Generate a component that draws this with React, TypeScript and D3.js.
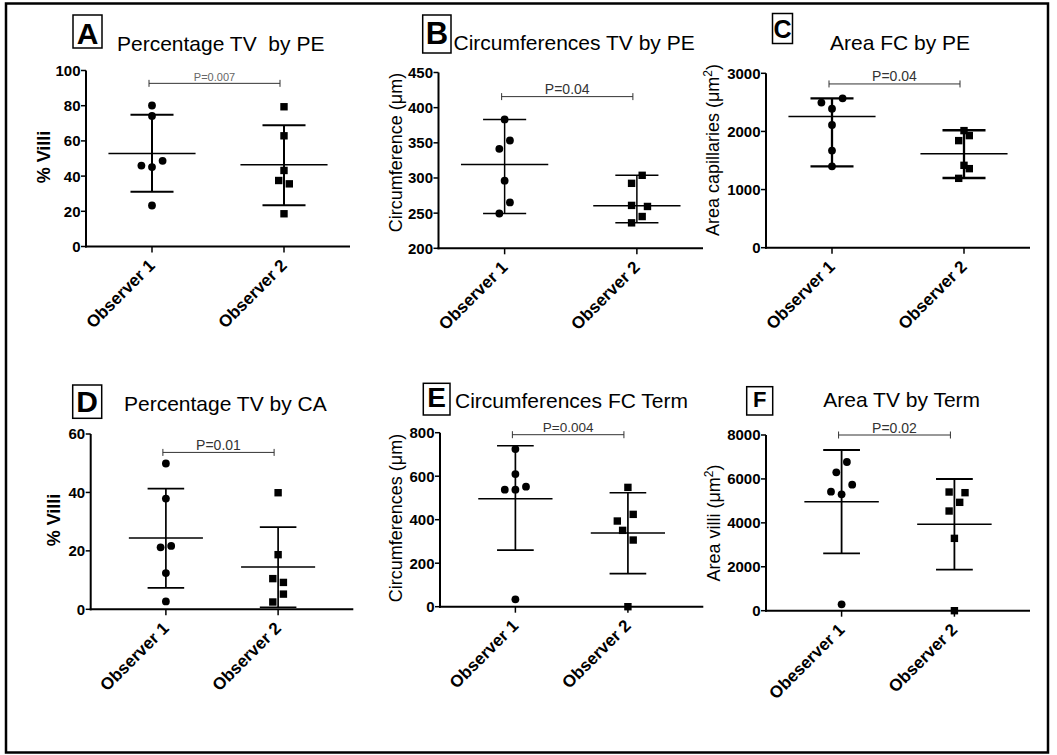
import React from 'react';
import * as d3 from 'd3';

const FONT = '"Liberation Sans", Arial, Helvetica, sans-serif';

const observerLabels = ['Observer 1', 'Observer 2'];
const observerLabelsF = ['Obeserver 1', 'Observer 2'];

// Panel A – Percentage TV by PE
const aObs1 = [80.1, 74.2, 46.0, 45.1, 48.7, 23.3];
const aObs2 = [79.4, 62.9, 43.2, 37.5, 35.6, 18.6];
const aJit1 = [0, 0, -2, 0, 2, 0];
const aJit2 = [0, 0, 0, -1, 1, 0];
const aMean = [52.8, 46.4];
const aSdLow = [31.1, 23.5];
const aSdHigh = [74.8, 68.9];
const aTicks = [0, 20, 40, 60, 80, 100];
const aSig = 92.7;

// Panel B – Circumferences TV by PE
const bObs1 = [383.3, 353.3, 341.4, 296.2, 265.2, 249.5];
const bObs2 = [303.8, 292.4, 261.0, 259.5, 245.2, 236.2];
const bJit1 = [0, 1, -1, 0, 1, -1];
const bJit2 = [1, -1, -1, 2, 1, -1];
const bMean = [319.0, 260.5];
const bSdLow = [249.5, 236.2];
const bSdHigh = [383.3, 303.8];
const bTicks = [200, 250, 300, 350, 400, 450];
const bSig = 415.7;

// Panel C – Area FC by PE
const cObs1 = [2496, 2570, 2392, 2111, 1670, 1400];
const cObs2 = [2014, 1842, 1928, 1417, 1360, 1193];
const cJit1 = [-2, 2, 0, 0, 0, 0];
const cJit2 = [0, -1, 1, 0, 1, -1];
const cMean = [2255, 1618];
const cSdLow = [1400, 1199];
const cSdHigh = [2570, 2020];
const cTicks = [0, 1000, 2000, 3000];
const cSig = 2817;

// Panel D – Percentage TV by CA
const dObs1 = [49.9, 37.9, 21.2, 21.7, 12.4, 2.7];
const dObs2 = [39.9, 18.7, 10.5, 9.2, 5.2, 2.5];
const dJit1 = [0, 0, -1, 1, 0, 0];
const dJit2 = [0, 0, -1, 1, 1, -1];
const dMean = [24.4, 14.5];
const dSdLow = [7.3, 0.7];
const dSdHigh = [41.3, 28.1];
const dTicks = [0, 20, 40, 60];
const dSig = 53.7;

// Panel E – Circumferences FC Term
const eObs1 = [724.9, 610.0, 538.0, 538.0, 551.7, 33.7];
const eObs2 = [548.6, 393.9, 424.5, 351.0, 306.5, 0];
const eJit1 = [0, 0, -2, 0, 2, 0];
const eJit2 = [0, -2, 1, -1, 1, 0];
const eMean = [496.6, 338.7];
const eSdLow = [260.5, 151.7];
const eSdHigh = [740.0, 524.0];
const eTicks = [0, 200, 400, 600, 800];
const eSig = 790.8;

// Panel F – Area TV by Term
const fObs1 = [6770, 6300, 5738, 5419, 5298, 288];
const fObs2 = [5404, 5374, 4934, 4539, 3294, 0];
const fJit1 = [1, -1, 2, -2, 0, 0];
const fJit2 = [-1, 2, 1, -1, 0, 0];
const fMean = [4964, 3932];
const fSdLow = [2611, 1867];
const fSdHigh = [7317, 5996];
const fTicks = [0, 2000, 4000, 6000, 8000];
const fSig = 8000;

type Panel = {
  letter: string;
  title: string;
  yLabel: string;
  sup?: boolean;
  yBold: boolean;
  cats: string[];
  obs1: number[]; obs2: number[]; jit1: number[]; jit2: number[];
  mean: number[]; sdLow: number[]; sdHigh: number[];
  ticks: number[]; sig: number; pText: string;
  x0: number; x1: number; yB: number; yT: number; pad: number;
  box: [number, number, number, number]; letterSize: number; letterBase: number;
  titleX: number; titleY: number;
  yLabX: number; yLabY: number; yLabSize: number;
  sdW: number; pColor: string; pSize: number;
};

const panels: Panel[] = [
  {
    letter: 'A', title: 'Percentage TV  by PE', yLabel: '% Villi', yBold: true, cats: observerLabels,
    obs1: aObs1, obs2: aObs2, jit1: aJit1, jit2: aJit2, mean: aMean, sdLow: aSdLow, sdHigh: aSdHigh,
    ticks: aTicks, sig: aSig, pText: 'P=0.007',
    x0: 86, x1: 350, yB: 246.5, yT: 70.5, pad: 0.5,
    box: [73, 15, 29, 33], letterSize: 30, letterBase: 43.5, titleX: 117, titleY: 51,
    yLabX: 50, yLabY: 157, yLabSize: 18, sdW: 2, pColor: '#666', pSize: 11,
  },
  {
    letter: 'B', title: 'Circumferences TV by PE', yLabel: 'Circumference (\u03bcm)', yBold: false, cats: observerLabels,
    obs1: bObs1, obs2: bObs2, jit1: bJit1, jit2: bJit2, mean: bMean, sdLow: bSdLow, sdHigh: bSdHigh,
    ticks: bTicks, sig: bSig, pText: 'P=0.04',
    x0: 438.5, x1: 703, yB: 248.3, yT: 72.5, pad: 0.5,
    box: [422.7, 15, 28.3, 38], letterSize: 31, letterBase: 44, titleX: 453.5, titleY: 50,
    yLabX: 402, yLabY: 152.5, yLabSize: 18, sdW: 1.5, pColor: '#333', pSize: 14,
  },
  {
    letter: 'C', title: 'Area FC by PE', yLabel: 'Area capillaries (\u03bcm', sup: true, yBold: false, cats: observerLabels,
    obs1: cObs1, obs2: cObs2, jit1: cJit1, jit2: cJit2, mean: cMean, sdLow: cSdLow, sdHigh: cSdHigh,
    ticks: cTicks, sig: cSig, pText: 'P=0.04',
    x0: 766, x1: 1030, yB: 247.7, yT: 73.3, pad: 0.5,
    box: [772.5, 13.5, 20, 30], letterSize: 25, letterBase: 38.3, titleX: 830, titleY: 50,
    yLabX: 719, yLabY: 150, yLabSize: 18, sdW: 2.3, pColor: '#333', pSize: 14,
  },
  {
    letter: 'D', title: 'Percentage TV by CA', yLabel: '% Villi', yBold: true, cats: observerLabels,
    obs1: dObs1, obs2: dObs2, jit1: dJit1, jit2: dJit2, mean: dMean, sdLow: dSdLow, sdHigh: dSdHigh,
    ticks: dTicks, sig: dSig, pText: 'P=0.01',
    x0: 90.7, x1: 353.3, yB: 609.3, yT: 434, pad: 0.67,
    box: [72.7, 385, 29, 33.3], letterSize: 30, letterBase: 411.7, titleX: 124, titleY: 411,
    yLabX: 60, yLabY: 520, yLabSize: 18, sdW: 1.7, pColor: '#333', pSize: 14,
  },
  {
    letter: 'E', title: 'Circumferences FC Term', yLabel: 'Circumferences (\u03bcm)', yBold: false, cats: observerLabels,
    obs1: eObs1, obs2: eObs2, jit1: eJit1, jit2: eJit2, mean: eMean, sdLow: eSdLow, sdHigh: eSdHigh,
    ticks: eTicks, sig: eSig, pText: 'P=0.004',
    x0: 440, x1: 703.3, yB: 606.7, yT: 432.7, pad: 0.67,
    box: [423.3, 383.3, 26.7, 31.7], letterSize: 28, letterBase: 406.7, titleX: 455, titleY: 408.3,
    yLabX: 402, yLabY: 518, yLabSize: 18, sdW: 1.7, pColor: '#333', pSize: 13.5,
  },
  {
    letter: 'F', title: 'Area TV by Term', yLabel: 'Area villi (\u03bcm', sup: true, yBold: false, cats: observerLabelsF,
    obs1: fObs1, obs2: fObs2, jit1: fJit1, jit2: fJit2, mean: fMean, sdLow: fSdLow, sdHigh: fSdHigh,
    ticks: fTicks, sig: fSig, pText: 'P=0.02',
    x0: 766, x1: 1030, yB: 610.7, yT: 435, pad: 0.67,
    box: [746.7, 386.7, 26, 28.3], letterSize: 22, letterBase: 407, titleX: 823.3, titleY: 407.3,
    yLabX: 720, yLabY: 523, yLabSize: 18, sdW: 1.8, pColor: '#333', pSize: 14,
  },
];

const JIT = 5.3;

function PanelView({ p }: { p: Panel }) {
  const x = d3.scalePoint<string>().domain(p.cats).range([p.x0, p.x1]).padding(p.pad);
  const y = d3.scaleLinear().domain([p.ticks[0], p.ticks[p.ticks.length - 1]]).range([p.yB, p.yT]);
  const step = x.step();
  const meanHalf = step * 0.33;
  const capHalf = step * 0.163;
  const groups = [
    { cat: p.cats[0], vals: p.obs1, jit: p.jit1, shape: 'circle' },
    { cat: p.cats[1], vals: p.obs2, jit: p.jit2, shape: 'square' },
  ];
  const sx1 = (x(p.cats[0]) as number) - 3;
  const sx2 = (x(p.cats[1]) as number) - 4;
  const sy = y(p.sig);
  return (
    <g>
      <rect x={p.box[0]} y={p.box[1]} width={p.box[2]} height={p.box[3]} fill="#fff" stroke="#000" strokeWidth={1.5} />
      <text x={p.box[0] + p.box[2] / 2} y={p.letterBase} textAnchor="middle" fontSize={p.letterSize} fontWeight="bold" fontFamily={FONT}>{p.letter}</text>
      <text x={p.titleX} y={p.titleY} fontSize={21} fontFamily={FONT} style={{ whiteSpace: 'pre' }}>{p.title}</text>

      <text transform={`translate(${p.yLabX},${p.yLabY}) rotate(-90)`} textAnchor="middle" fontSize={p.yLabSize}
        fontWeight={p.yBold ? 'bold' : 'normal'} fontFamily={FONT}>
        {p.yLabel}
        {p.sup ? (<><tspan dy={-7} fontSize={12}>2</tspan><tspan dy={7}>)</tspan></>) : null}
      </text>

      <line x1={p.x0} x2={p.x0} y1={p.yT} y2={p.yB + 1} stroke="#000" strokeWidth={2} />
      <line x1={p.x0 - 1} x2={p.x1} y1={p.yB} y2={p.yB} stroke="#000" strokeWidth={2} />
      {p.ticks.map((t) => (
        <g key={t}>
          <line x1={p.x0 - 5} x2={p.x0} y1={y(t)} y2={y(t)} stroke="#000" strokeWidth={1.5} />
          <text x={p.x0 - 5.5} y={y(t)} dy="0.36em" textAnchor="end" fontSize={15} fontWeight="bold" fontFamily={FONT}>{t}</text>
        </g>
      ))}
      {p.cats.map((c) => {
        const cx = x(c) as number;
        return (
          <g key={c}>
            <line x1={cx} x2={cx} y1={p.yB} y2={p.yB + 6} stroke="#000" strokeWidth={1.5} />
            <text transform={`translate(${cx + 4},${p.yB + 20}) rotate(-45)`} textAnchor="end" fontSize={17}
              fontWeight="bold" fontFamily={FONT}>{c}</text>
          </g>
        );
      })}

      <line x1={sx1} x2={sx2} y1={sy} y2={sy} stroke="#333" strokeWidth={1} />
      <line x1={sx1} x2={sx1} y1={sy - 3.5} y2={sy + 3.5} stroke="#333" strokeWidth={1} />
      <line x1={sx2} x2={sx2} y1={sy - 3.5} y2={sy + 3.5} stroke="#333" strokeWidth={1} />
      <text x={(sx1 + sx2) / 2} y={sy - 2.5} textAnchor="middle" fontSize={p.pSize} fill={p.pColor} fontFamily={FONT}>{p.pText}</text>

      {groups.map((g, i) => {
        const cx = x(g.cat) as number;
        return (
          <g key={'sd' + i} stroke="#000">
            <line x1={cx} x2={cx} y1={y(p.sdLow[i])} y2={y(p.sdHigh[i])} strokeWidth={p.sdW} />
            <line x1={cx - capHalf} x2={cx + capHalf} y1={y(p.sdLow[i])} y2={y(p.sdLow[i])} strokeWidth={p.sdW} />
            <line x1={cx - capHalf} x2={cx + capHalf} y1={y(p.sdHigh[i])} y2={y(p.sdHigh[i])} strokeWidth={p.sdW} />
            <line x1={cx - meanHalf} x2={cx + meanHalf} y1={y(p.mean[i])} y2={y(p.mean[i])} strokeWidth={1.5} />
          </g>
        );
      })}

      {groups.map((g, i) => {
        const cx = x(g.cat) as number;
        return (
          <g key={'pts' + i}>
            {g.vals.map((v, j) => {
              const px = cx + g.jit[j] * JIT;
              const py = y(v);
              return g.shape === 'circle'
                ? <circle key={j} cx={px} cy={py} r={3.9} fill="#000" />
                : <rect key={j} x={px - 3.7} y={py - 3.7} width={7.4} height={7.4} fill="#000" />;
            })}
          </g>
        );
      })}
    </g>
  );
}

export default function App() {
  return (
    <svg width={1057} height={755} style={{ position: 'absolute', left: 0, top: 0, background: '#fff' }}>
      <rect x={0} y={0} width={1057} height={755} fill="#fff" />
      <rect x={6} y={3.5} width={1042} height={749} fill="none" stroke="#000" strokeWidth={2.5} />
      {panels.map((p) => <PanelView key={p.letter} p={p} />)}
    </svg>
  );
}
